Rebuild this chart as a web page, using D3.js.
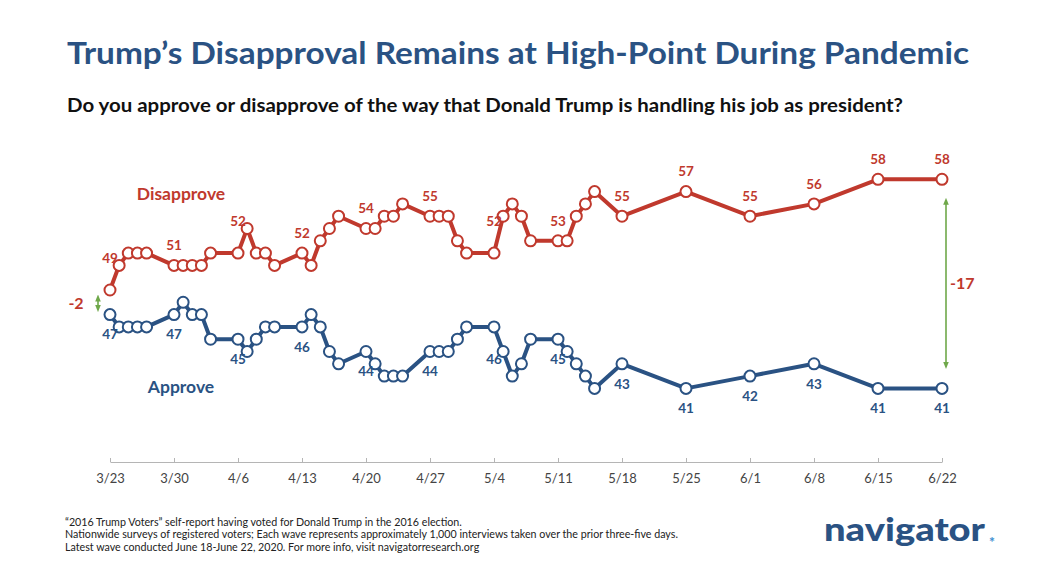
<!DOCTYPE html>
<html>
<head>
<meta charset="utf-8">
<script src="https://cdn.jsdelivr.net/npm/d3@7"></script>
<style>
  body { margin: 0; background: #fff; }
  text { font-family: Lato, "Open Sans", sans-serif; }
</style>
</head>
<body>
<script>
"use strict";

let width = 1062;
let height = 576;

// wave dates (field end dates, 2020)
let dates = [
  "3/23", "3/24", "3/25", "3/26", "3/27",
  "3/30", "3/31", "4/1", "4/2", "4/3",
  "4/6", "4/7", "4/8", "4/9", "4/10",
  "4/13", "4/14", "4/15", "4/16", "4/17",
  "4/20", "4/21", "4/22", "4/23", "4/24",
  "4/27", "4/28", "4/29", "4/30", "5/1",
  "5/4", "5/5", "5/6", "5/7", "5/8",
  "5/11", "5/12", "5/13", "5/14", "5/15",
  "5/18", "5/25", "6/1", "6/8", "6/15", "6/22"
];

let disapprove = [
  49, 51, 52, 52, 52,
  51, 51, 51, 51, 52,
  52, 54, 52, 52, 51,
  52, 51, 53, 54, 55,
  54, 54, 55, 55, 56,
  55, 55, 55, 53, 52,
  52, 55, 56, 55, 53,
  53, 53, 55, 56, 57,
  55, 57, 55, 56, 58, 58
];

let approve = [
  47, 46, 46, 46, 46,
  47, 48, 47, 47, 45,
  45, 44, 45, 46, 46,
  46, 47, 46, 44, 43,
  44, 43, 42, 42, 42,
  44, 44, 44, 45, 46,
  46, 44, 42, 43, 45,
  45, 44, 43, 42, 41,
  43, 41, 42, 43, 41, 41
];

let tickLabels = ["3/23", "3/30", "4/6", "4/13", "4/20", "4/27", "5/4", "5/11",
                  "5/18", "5/25", "6/1", "6/8", "6/15", "6/22"];

// waves that carry a value label, and the ones whose label sits further out
let labelledDates = ["3/23", "3/30", "4/6", "4/13", "4/20", "4/27", "5/4", "5/11",
                     "5/18", "5/25", "6/1", "6/8", "6/15", "6/22"];
let farDisapprove = ["3/23", "4/6", "5/4"];
let farApprove = ["5/4"];

let footnotes = [
  "\u201C2016 Trump Voters\u201D self-report having voted for Donald Trump in the 2016 election.",
  "Nationwide surveys of registered voters; Each wave represents approximately 1,000 interviews taken over the prior three-five days.",
  "Latest wave conducted June 18-June 22, 2020. For more info, visit navigatorresearch.org"
];

let red = "#c0392d";
let blue = "#2a5283";
let green = "#6fa84a";

let parse = s => {
  let p = s.split("/");
  return new Date(2020, +p[0] - 1, +p[1]);
};

let svg = d3.select("body").append("svg")
  .attr("width", width).attr("height", height);

svg.append("text")
  .attr("x", 67).attr("y", 64)
  .attr("textLength", 902)
  .attr("lengthAdjust", "spacingAndGlyphs")
  .style("font-size", "31px").style("font-weight", 700)
  .attr("fill", blue)
  .text("Trump\u2019s Disapproval Remains at High-Point During Pandemic");

svg.append("text")
  .attr("x", 67).attr("y", 112)
  .attr("textLength", 836)
  .attr("lengthAdjust", "spacingAndGlyphs")
  .style("font-size", "18.5px").style("font-weight", 700)
  .attr("fill", "#111")
  .text("Do you approve or disapprove of the way that Donald Trump is handling his job as president?");

let x = d3.scaleTime()
  .domain([parse("3/23"), parse("6/22")])
  .range([110, 942]);

let y = d3.scaleLinear()
  .domain([41, 58])
  .range([388.4, 179.3]);

// axis
let axis = d3.axisBottom(x)
  .tickValues(tickLabels.map(parse))
  .tickFormat(d3.timeFormat("%-m/%-d"))
  .tickSizeInner(-4)
  .tickSizeOuter(0)
  .tickPadding(12);

let ax = svg.append("g")
  .attr("transform", "translate(0,462)")
  .call(axis);
ax.select(".domain").attr("stroke", "#b5b5b5");
ax.selectAll(".tick line").attr("stroke", "#b5b5b5");
ax.selectAll(".tick text")
  .style("font-size", "13px")
  .style("font-family", "Lato, sans-serif")
  .attr("fill", "#444");

let rows = dates.map((d, i) => ({ key: d, date: parse(d), dis: disapprove[i], app: approve[i] }));

let line = key => d3.line()
  .x(d => x(d.date))
  .y(d => y(d[key]));

let series = [
  { key: "dis", color: red, far: farDisapprove, dir: -1 },
  { key: "app", color: blue, far: farApprove, dir: 1 }
];

series.forEach(s => {
  svg.append("path")
    .datum(rows)
    .attr("fill", "none")
    .attr("stroke", s.color)
    .attr("stroke-width", 4)
    .attr("stroke-linejoin", "round")
    .attr("d", line(s.key));

  svg.append("g").selectAll("circle")
    .data(rows)
    .enter()
    .append("circle")
    .attr("cx", d => x(d.date))
    .attr("cy", d => y(d[s.key]))
    .attr("r", 5.5)
    .attr("fill", "#fff")
    .attr("stroke", s.color)
    .attr("stroke-width", 2);

  svg.append("g").selectAll("text")
    .data(rows.filter(d => labelledDates.includes(d.key)))
    .enter()
    .append("text")
    .attr("x", d => x(d.date))
    .attr("y", d => {
      let off = s.far.includes(d.key) ? 32 : 20;
      return y(d[s.key]) + s.dir * off + 4.8;
    })
    .attr("text-anchor", "middle")
    .style("font-size", "13.5px").style("font-weight", 700)
    .attr("fill", s.color)
    .text(d => d[s.key]);
});

// series names
svg.append("text")
  .attr("x", 181).attr("y", 200)
  .attr("text-anchor", "middle")
  .style("font-size", "17.5px").style("font-weight", 700)
  .attr("fill", red)
  .text("Disapprove");

svg.append("text")
  .attr("x", 181).attr("y", 393)
  .attr("text-anchor", "middle")
  .style("font-size", "17.5px").style("font-weight", 700)
  .attr("fill", blue)
  .text("Approve");

// gap arrows
let defs = svg.append("defs");
["start", "end"].forEach(k => {
  defs.append("marker")
    .attr("id", "arr-" + k)
    .attr("viewBox", "0 0 10 10")
    .attr("refX", 5).attr("refY", 5)
    .attr("markerWidth", 7).attr("markerHeight", 7)
    .attr("markerUnits", "userSpaceOnUse")
    .attr("orient", k === "start" ? "auto-start-reverse" : "auto")
    .append("path")
    .attr("d", "M0,1 L10,5 L0,9 Z")
    .attr("fill", green);
});

let first = rows[0];
let last = rows[rows.length - 1];

let gaps = [
  { xPos: x(first.date) - 12, top: y(first.dis) + 5, bottom: y(first.app) - 3,
    text: first.app - first.dis, tx: 76, anchor: "middle" },
  { xPos: x(last.date) + 4, top: y(last.dis) + 19, bottom: y(last.app) - 20,
    text: last.app - last.dis, tx: 950, anchor: "start" }
];

gaps.forEach(g => {
  svg.append("line")
    .attr("x1", g.xPos).attr("x2", g.xPos)
    .attr("y1", g.top + 3).attr("y2", g.bottom - 3)
    .attr("stroke", green)
    .attr("stroke-width", 1.6)
    .attr("marker-start", "url(#arr-start)")
    .attr("marker-end", "url(#arr-end)");
  svg.append("text")
    .attr("x", g.tx)
    .attr("y", (g.top + g.bottom) / 2 + 6)
    .attr("text-anchor", g.anchor)
    .style("font-size", "16px").style("font-weight", 700)
    .attr("fill", red)
    .text(g.text);
});

// footnotes
svg.append("g").selectAll("text")
  .data(footnotes)
  .enter()
  .append("text")
  .attr("x", 65)
  .attr("y", (d, i) => 525.5 + i * 12.5)
  .style("font-size", "10.7px")
  .attr("fill", "#222")
  .text(d => d);

// logo
svg.append("text")
  .attr("x", 824).attr("y", 541)
  .attr("textLength", 161)
  .attr("lengthAdjust", "spacingAndGlyphs")
  .style("font-size", "33px").style("font-weight", 900)
  .attr("fill", blue)
  .text("navigator");
svg.append("text")
  .attr("x", 989).attr("y", 547)
  .style("font-size", "14px").style("font-weight", 900)
  .attr("fill", "#3d8fd1")
  .text("*");
</script>
</body>
</html>
